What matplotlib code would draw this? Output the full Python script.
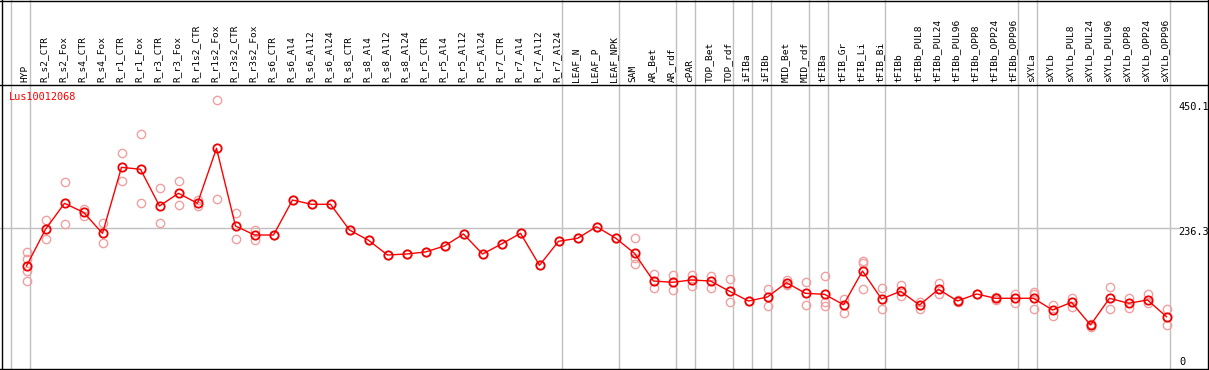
import matplotlib
matplotlib.use("Agg")
import matplotlib.pyplot as plt
from matplotlib.lines import Line2D

categories = ["HYP", "R_s2_CTR", "R_s2_Fox", "R_s4_CTR", "R_s4_Fox", "R_r1_CTR", "R_r1_Fox",
              "R_r3_CTR", "R_r3_Fox", "R_r1s2_CTR", "R_r1s2_Fox", "R_r3s2_CTR", "R_r3s2_Fox",
              "R_s6_CTR", "R_s6_Al4", "R_s6_Al12", "R_s6_Al24", "R_s8_CTR", "R_s8_Al4",
              "R_s8_Al12", "R_s8_Al24", "R_r5_CTR", "R_r5_Al4", "R_r5_Al12", "R_r5_Al24",
              "R_r7_CTR", "R_r7_Al4", "R_r7_Al12", "R_r7_Al24", "LEAF_N", "LEAF_P", "LEAF_NPK",
              "SAM", "AR_Bet", "AR_rdf", "cPAR", "TOP_Bet", "TOP_rdf", "iFIBa", "iFIBb",
              "MID_Bet", "MID_rdf", "tFIBa", "tFIB_Gr", "tFIB_Li", "tFIB_Bi", "tFIBb",
              "tFIBb_PUL8", "tFIBb_PUL24", "tFIBb_PUL96", "tFIBb_OPP8", "tFIBb_OPP24",
              "tFIBb_OPP96", "sXYLa", "sXYLb", "sXYLb_PUL8", "sXYLb_PUL24", "sXYLb_PUL96",
              "sXYLb_OPP8", "sXYLb_OPP24", "sXYLb_OPP96"]

means = [173.3, 234.5, 277.8, 262.8, 227.8, 337.8, 334.5, 273.3, 294.5, 277.8, 369.5,
         240.0, 225.0, 225.0, 283.3, 276.2, 276.2, 233.3, 216.2, 191.7, 193.3, 196.7,
         206.7, 226.7, 193.3, 210.0, 227.8, 174.5, 214.5, 219.5, 238.8, 220.0,
         194.5, 148.3, 146.2, 150.0, 148.3, 131.2, 115.0, 121.7, 145.5, 127.8, 126.2,
         108.8, 165.0, 118.3, 131.2, 108.3, 134.5, 115.0, 126.7, 119.5, 119.5, 119.5,
         100.0, 112.8, 75.0, 119.5, 111.2, 116.7, 88.8]

replicates = [
    [196.2, 184.5, 165.0, 148.3], [250.0, 217.8], [312.8, 242.8], [267.8, 256.7],
    [244.5, 212.2], [361.2, 314.5], [392.8, 277.8], [302.8, 244.5], [315.0, 275.5],
    [283.3, 273.3], [450.1, 284.5], [261.2, 217.8], [233.3, 216.7], [225.0],
    [283.3], [276.2], [276.2], [233.3], [216.2], [191.7], [193.3], [196.7], [206.7],
    [226.7], [193.3], [210.0], [227.8], [174.5], [214.5], [219.5], [238.8], [220.0],
    [219.5, 176.2, 186.2], [159.5, 136.2], [157.8, 133.3], [158.3, 140.5],
    [157.2, 137.2], [151.2, 112.8], [115.0], [134.5, 106.2], [150.0, 141.7],
    [146.2, 107.8], [156.7, 113.8, 106.2], [118.3, 95.5], [181.7, 178.8, 134.5],
    [136.2, 101.7], [142.2, 123.3], [113.8, 101.7], [144.5, 126.2], [117.0, 113.0],
    [126.7], [122.2, 116.7], [126.2, 111.2], [129.5, 126.2, 101.2], [108.3, 90.5],
    [120.5, 104.5], [72.2, 76.7], [138.8, 101.2], [120.5, 102.8], [126.2, 111.2],
    [101.2, 75.0]]

group_ends = [0, 28, 31, 34, 35, 37, 38, 39, 41, 42, 45, 52, 53, 60]
gene_name = "Lus10012068"
axis_labels = ["450.1", "236.3", "0"]
ref_value = 236.3

W, H = 1209, 370
fig = plt.figure(figsize=(W / 100, H / 100), dpi=100)
head = 85
ax = fig.add_axes([0, 0, 1, (H - head) / H])
x0, dx = 26.5, 19.0
ax.set_xlim(-x0 / dx, (W - x0) / dx)
ax.set_ylim(0, (H - head) / 0.6)
ax.axis("off")

mono = "DejaVu Sans Mono"
fs = 6.8
grey = "#c0c0c0"
ext = H / (H - head)

ax.axvline(-0.83, 0, ext, color=grey, lw=1, clip_on=False, zorder=1)
for g in group_ends:
    ax.axvline(g + 0.21, 0, ext, color=grey, lw=1, clip_on=False, zorder=1)
ax.axhline(ref_value, 0, 1179 / W, color=grey, lw=1, zorder=1)

for i, reps in enumerate(replicates):
    ax.plot([i] * len(reps), reps, linestyle="none", marker="o", ms=6, mfc="none",
            mec="#f0a0a0", mew=1, zorder=2)
ax.plot(range(len(means)), means, color="red", lw=1, marker="o", ms=6, mfc="none",
        mec="#f00000", mew=1.3, zorder=3)

for i, c in enumerate(categories):
    ax.text(i - 0.08, 1 + 3 / (H - head), c, transform=ax.get_xaxis_transform(),
            rotation=90, ha="center", va="bottom", family=mono, fontsize=fs,
            clip_on=False)

fig.text(9 / W, 1 - 97 / H, gene_name, color="red", family=mono, fontsize=fs + 0.6,
         ha="left", va="center")
fig.text(1178 / W, 1 - 107 / H, axis_labels[0], family=mono, fontsize=fs + 0.6,
         ha="left", va="center")
fig.text(1178 / W, 1 - 232 / H, axis_labels[1], family=mono, fontsize=fs + 0.6,
         ha="left", va="center")
fig.text(1179 / W, 1 - 362 / H, axis_labels[2], family=mono, fontsize=fs + 0.6,
         ha="left", va="center")

def fline(xs, ys, **kw):
    fig.add_artist(Line2D([x / W for x in xs], [1 - y / H for y in ys],
                          color="black", lw=1.0, **kw))

fline([1.5, 1.5], [0, H])
fline([W - 1.5, W - 1.5], [0, H])
fline([0, W], [0.7, 0.7])
fline([0, W], [H - 0.7, H - 0.7])
fline([0, W], [head, head])

fig.savefig("out.png", dpi=100)
